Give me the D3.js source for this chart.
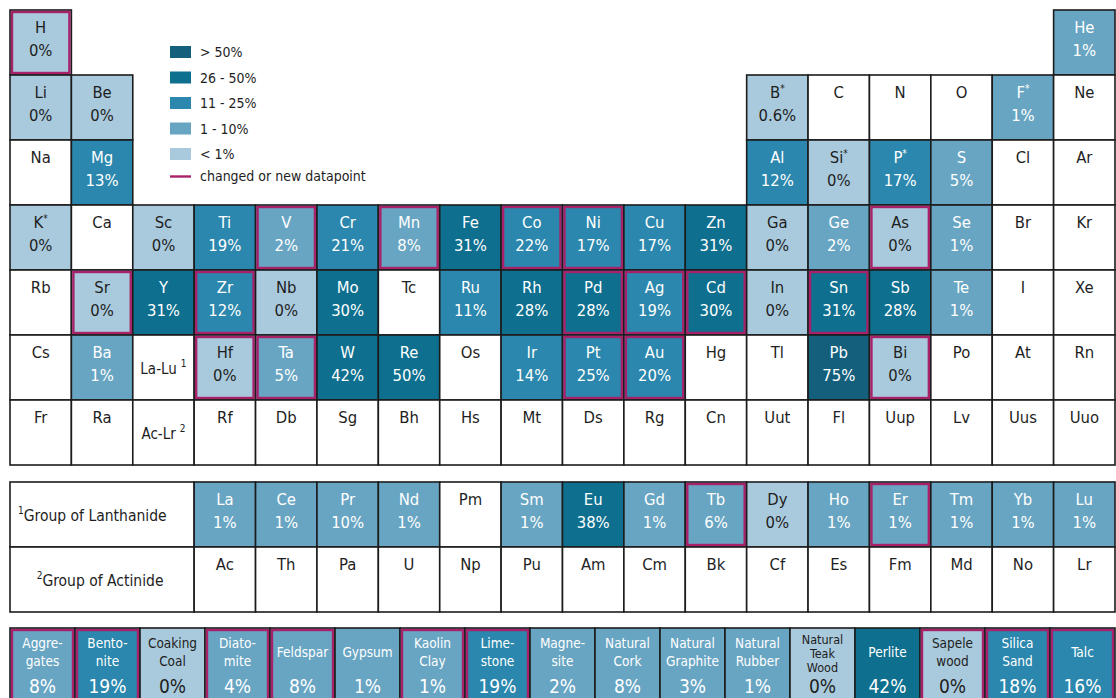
<!DOCTYPE html>
<html>
<head>
<meta charset="utf-8">
<script src="https://cdn.jsdelivr.net/npm/d3@7"></script>
<style>
  html, body { margin: 0; padding: 0; background: #fff; overflow: hidden; }
  svg { display: block; }
  text { font-family: "DejaVu Sans Condensed", "DejaVu Sans", sans-serif; }
</style>
</head>
<body>
<script>
// periodic table layout, null = no cell
const periodRows = [
    ["H", null, null, null, null, null, null, null, null, null, null, null, null, null, null, null, null, "He"],
    ["Li", "Be", null, null, null, null, null, null, null, null, null, null, "B", "C", "N", "O", "F", "Ne"],
    ["Na", "Mg", null, null, null, null, null, null, null, null, null, null, "Al", "Si", "P", "S", "Cl", "Ar"],
    ["K", "Ca", "Sc", "Ti", "V", "Cr", "Mn", "Fe", "Co", "Ni", "Cu", "Zn", "Ga", "Ge", "As", "Se", "Br", "Kr"],
    ["Rb", "Sr", "Y", "Zr", "Nb", "Mo", "Tc", "Ru", "Rh", "Pd", "Ag", "Cd", "In", "Sn", "Sb", "Te", "I", "Xe"],
    ["Cs", "Ba", "La-Lu", "Hf", "Ta", "W", "Re", "Os", "Ir", "Pt", "Au", "Hg", "Tl", "Pb", "Bi", "Po", "At", "Rn"],
    ["Fr", "Ra", "Ac-Lr", "Rf", "Db", "Sg", "Bh", "Hs", "Mt", "Ds", "Rg", "Cn", "Uut", "Fl", "Uup", "Lv", "Uus", "Uuo"]
];
const lanthanides = ["La", "Ce", "Pr", "Nd", "Pm", "Sm", "Eu", "Gd", "Tb", "Dy", "Ho", "Er", "Tm", "Yb", "Lu"];
const actinides = ["Ac", "Th", "Pa", "U", "Np", "Pu", "Am", "Cm", "Bk", "Cf", "Es", "Fm", "Md", "No", "Lr"];

// end-of-life recycling input rates (%)
const elementRates = [
    ["H", 0], ["He", 1], ["Li", 0], ["Be", 0], ["B", 0.6], ["F", 1],
    ["Mg", 13], ["Al", 12], ["Si", 0], ["P", 17], ["S", 5],
    ["K", 0], ["Sc", 0], ["Ti", 19], ["V", 2], ["Cr", 21], ["Mn", 8], ["Fe", 31], ["Co", 22],
    ["Ni", 17], ["Cu", 17], ["Zn", 31], ["Ga", 0], ["Ge", 2], ["As", 0], ["Se", 1],
    ["Sr", 0], ["Y", 31], ["Zr", 12], ["Nb", 0], ["Mo", 30], ["Ru", 11], ["Rh", 28], ["Pd", 28],
    ["Ag", 19], ["Cd", 30], ["In", 0], ["Sn", 31], ["Sb", 28], ["Te", 1],
    ["Ba", 1], ["Hf", 0], ["Ta", 5], ["W", 42], ["Re", 50], ["Ir", 14], ["Pt", 25], ["Au", 20],
    ["Pb", 75], ["Bi", 0],
    ["La", 1], ["Ce", 1], ["Pr", 10], ["Nd", 1], ["Sm", 1], ["Eu", 38], ["Gd", 1], ["Tb", 6],
    ["Dy", 0], ["Ho", 1], ["Er", 1], ["Tm", 1], ["Yb", 1], ["Lu", 1]
];
const starred = ["K", "B", "Si", "P", "F"];
const changedElements = ["H", "V", "Mn", "Co", "Ni", "Sr", "Zr", "Hf", "Ta", "Pd", "Ag", "Cd",
    "Pt", "Au", "As", "Sn", "Bi", "Tb", "Er"];

const materials = ["Aggre-|gates", "Bento-|nite", "Coaking|Coal", "Diato-|mite", "Feldspar", "Gypsum",
    "Kaolin|Clay", "Lime-|stone", "Magne-|site", "Natural|Cork", "Natural|Graphite", "Natural|Rubber",
    "Natural|Teak|Wood", "Perlite", "Sapele|wood", "Silica|Sand", "Talc"];
const materialRates = [8, 19, 0, 4, 8, 1, 1, 19, 2, 8, 3, 1, 0, 42, 0, 18, 16];
const changedMaterials = ["Aggre-|gates", "Bento-|nite", "Diato-|mite", "Feldspar", "Kaolin|Clay",
    "Lime-|stone", "Sapele|wood", "Silica|Sand", "Talc"];

const legendLabels = ["> 50%", "26 - 50%", "11 - 25%", "1 - 10%", "< 1%"];
const binColors = ["#a9cadc", "#68a5c3", "#2b87ad", "#0e6f8f", "#135f7c"];

const W = 1116, H = 698;
const lineColor = "#1c1c1c";
const changedColor = "#a8226a";

const rateMap = new Map(elementRates);

const color = d3.scaleThreshold()
    .domain([1, 10.5, 25.5, 50.5])
    .range(binColors);

const svg = d3.select("body").append("svg")
    .attr("width", W)
    .attr("height", H);

const x = d3.scaleBand().domain(d3.range(18)).range([10, 1115]);
const y = d3.scaleBand().domain(d3.range(7)).range([10, 465]);
const yLan = d3.scaleBand().domain([0, 1]).range([482, 612]);
const xMat = d3.scaleBand().domain(materials).range([10, 1115]);

function textColor(v) {
    return (v == null || v < 1) ? "#1e1e1e" : "#ffffff";
}

function fmt(v) {
    return v + "%";
}

// one element cell
function drawCell(g, sym, x0, y0, w, h) {
    const v = rateMap.get(sym);
    const fill = v == null ? "#ffffff" : color(v);
    g.append("rect")
        .attr("x", x0).attr("y", y0)
        .attr("width", w).attr("height", h)
        .attr("fill", fill)
        .attr("stroke", lineColor)
        .attr("stroke-width", 1.6);
    if (changedElements.includes(sym)) {
        g.append("rect")
            .attr("x", x0 + 2).attr("y", y0 + 2)
            .attr("width", w - 4).attr("height", h - 4)
            .attr("fill", "none")
            .attr("stroke", changedColor)
            .attr("stroke-width", 2.4);
    }
    const cx = x0 + w / 2;
    const tc = textColor(v);
    if (sym === "La-Lu" || sym === "Ac-Lr") {
        const t = g.append("text")
            .attr("x", cx).attr("y", y0 + h / 2 + 6)
            .attr("text-anchor", "middle")
            .attr("font-size", 15)
            .attr("fill", tc);
        t.append("tspan").text(sym);
        t.append("tspan").attr("dx", 4).attr("dy", -7).attr("font-size", 10)
            .text(sym === "La-Lu" ? "1" : "2");
        return;
    }
    const t = g.append("text")
        .attr("x", cx).attr("y", y0 + 23)
        .attr("text-anchor", "middle")
        .attr("font-size", 16.5)
        .attr("fill", tc);
    t.append("tspan").text(sym);
    if (starred.includes(sym)) {
        t.append("tspan").attr("dy", -6).attr("font-size", 10).text("*");
    }
    if (v != null) {
        g.append("text")
            .attr("x", cx).attr("y", y0 + 46)
            .attr("text-anchor", "middle")
            .attr("font-size", 16.5)
            .attr("fill", tc)
            .text(fmt(v));
    }
}

// main table
const main = svg.append("g");
periodRows.forEach((row, r) => {
    row.forEach((sym, c) => {
        if (sym == null) return;
        drawCell(main, sym, x(c), y(r), x.bandwidth(), y.bandwidth());
    });
});

// lanthanide / actinide block
const lan = svg.append("g");
const labelW = x(3) - x(0);
[["1", "Group of Lanthanide"], ["2", "Group of Actinide"]].forEach((lab, i) => {
    lan.append("rect")
        .attr("x", x(0)).attr("y", yLan(i))
        .attr("width", labelW).attr("height", yLan.bandwidth())
        .attr("fill", "#fff")
        .attr("stroke", lineColor)
        .attr("stroke-width", 1.6);
    const t = lan.append("text")
        .attr("x", i === 0 ? x(0) + 8 : x(0) + labelW / 2 - 2)
        .attr("y", yLan(i) + yLan.bandwidth() / 2 + 6)
        .attr("text-anchor", i === 0 ? "start" : "middle")
        .attr("font-size", 15.5)
        .attr("fill", "#1e1e1e");
    t.append("tspan").attr("font-size", 10).attr("dy", -7).text(lab[0]);
    t.append("tspan").attr("dy", 7).text(lab[1]);
});
lanthanides.forEach((sym, i) => drawCell(lan, sym, x(i + 3), yLan(0), x.bandwidth(), yLan.bandwidth()));
actinides.forEach((sym, i) => drawCell(lan, sym, x(i + 3), yLan(1), x.bandwidth(), yLan.bandwidth()));

// raw materials row
const mat = svg.append("g");
const matTop = 628, matH = 76;
materials.forEach((name, i) => {
    const v = materialRates[i];
    const x0 = xMat(name), w = xMat.bandwidth();
    mat.append("rect")
        .attr("x", x0).attr("y", matTop)
        .attr("width", w).attr("height", matH)
        .attr("fill", color(v))
        .attr("stroke", lineColor)
        .attr("stroke-width", 1.6);
    if (changedMaterials.includes(name)) {
        mat.append("rect")
            .attr("x", x0 + 2).attr("y", matTop + 2)
            .attr("width", w - 4).attr("height", matH - 4)
            .attr("fill", "none")
            .attr("stroke", changedColor)
            .attr("stroke-width", 2.4);
    }
    const lines = name.split("|");
    const tc = textColor(v);
    const cx = x0 + w / 2;
    let fs = 13.5, lh = 18, first = matTop + 20;
    if (lines.length === 1) first = matTop + 29;
    if (lines.length === 3) { fs = 12.5; lh = 14; first = matTop + 16; }
    lines.forEach((ln, k) => {
        mat.append("text")
            .attr("x", cx).attr("y", first + k * lh)
            .attr("text-anchor", "middle")
            .attr("font-size", fs)
            .attr("fill", tc)
            .text(ln);
    });
    mat.append("text")
        .attr("x", cx).attr("y", matTop + 65)
        .attr("text-anchor", "middle")
        .attr("font-size", 19)
        .attr("fill", tc)
        .text(fmt(v));
});

// legend
const legend = svg.append("g").attr("transform", "translate(170,46)");
const legendBins = binColors.slice().reverse();
legendLabels.forEach((lab, i) => {
    const g = legend.append("g").attr("transform", `translate(0,${i * 25.5})`);
    g.append("rect").attr("width", 21).attr("height", 12).attr("fill", legendBins[i]);
    g.append("text").attr("x", 30).attr("y", 11)
        .attr("font-size", 14).attr("fill", "#1e1e1e").text(lab);
});
const lg = legend.append("g").attr("transform", `translate(0,${5 * 25.5})`);
lg.append("line").attr("x1", 0).attr("x2", 21).attr("y1", 3).attr("y2", 3)
    .attr("stroke", changedColor).attr("stroke-width", 2.4);
lg.append("text").attr("x", 30).attr("y", 7)
    .attr("font-size", 14).attr("fill", "#1e1e1e").text("changed or new datapoint");
</script>
</body>
</html>
